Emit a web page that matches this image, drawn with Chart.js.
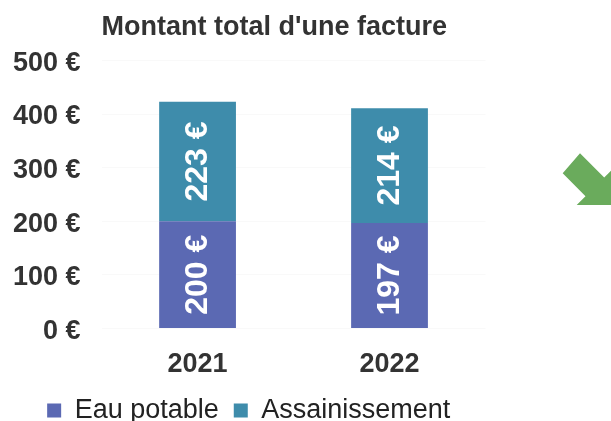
<!DOCTYPE html>
<html>
<head>
<meta charset="utf-8">
<script src="https://cdn.jsdelivr.net/npm/chart.js@4"></script>
<style>
    body { margin: 0; background: #fff; }
    #wrap { width: 611px; height: 421px; position: relative; }
</style>
</head>
<body>
<div id="wrap"><canvas id="factureChart"></canvas></div>
<script>
// données du graphique
const annees = ['2021', '2022'];
const eauPotable = [200, 197];
const assainissement = [223, 214];
const yTicks = [0, 100, 200, 300, 400, 500];

const police = "'Liberation Sans', Arial, sans-serif";

// étiquettes verticales dans les barres
const etiquettesPlugin = {
    id: 'etiquettes',
    afterDatasetsDraw(chart) {
        const ctx = chart.ctx;
        ctx.save();
        ctx.fillStyle = '#ffffff';
        ctx.font = 'bold 32px ' + police;
        ctx.textAlign = 'center';
        ctx.textBaseline = 'middle';
        chart.data.datasets.forEach((ds, i) => {
            chart.getDatasetMeta(i).data.forEach((bar, j) => {
                const cy = (bar.y + bar.base) / 2;
                ctx.save();
                ctx.translate(bar.x, cy);
                ctx.rotate(-Math.PI / 2);
                ctx.fillText(ds.data[j] + ' €', 0, 1);
                ctx.restore();
            });
        });
        ctx.restore();
    }
};

// flèche verte décorative (coupée au bord droit)
const flechePlugin = {
    id: 'fleche',
    afterDraw(chart) {
        const ctx = chart.ctx;
        const w = chart.width;
        const pts = [[-48.3, 173.3], [-31, 153.3], [-6.8, 177.5], [2.1, 168.7],
                     [2, 205], [-34.3, 205], [-25.5, 196.2]];
        ctx.save();
        ctx.fillStyle = '#6aab5c';
        ctx.beginPath();
        pts.forEach((p, k) => {
            if (k === 0) ctx.moveTo(w + p[0], p[1]);
            else ctx.lineTo(w + p[0], p[1]);
        });
        ctx.closePath();
        ctx.fill();
        ctx.restore();
    }
};

new Chart(document.getElementById('factureChart'), {
    type: 'bar',
    data: {
        labels: annees,
        datasets: [{
            label: 'Eau potable',
            data: eauPotable,
            backgroundColor: '#5b69b3',
            categoryPercentage: 1,
            barPercentage: 0.4
        }, {
            label: 'Assainissement',
            data: assainissement,
            backgroundColor: '#3e8cab',
            categoryPercentage: 1,
            barPercentage: 0.4
        }]
    },
    options: {
        responsive: true,
        maintainAspectRatio: false,
        animation: false,
        layout: {
            padding: { left: 12, right: 125.5, top: 0, bottom: -13 }
        },
        plugins: {
            title: {
                display: true,
                text: "Montant total d'une facture",
                align: 'start',
                fullSize: false,
                color: '#333333',
                font: { family: police, size: 27, weight: 'bold' },
                padding: { top: 11, bottom: 17 }
            },
            legend: {
                position: 'bottom',
                labels: {
                    color: '#222222',
                    font: { family: police, size: 27 },
                    boxWidth: 14,
                    boxHeight: 14,
                    padding: 15
                }
            },
            tooltip: { enabled: false }
        },
        scales: {
            x: {
                stacked: true,
                grid: { display: false, drawTicks: true, tickLength: 19 },
                border: { display: false },
                ticks: {
                    color: '#333333',
                    padding: 1,
                    font: { family: police, size: 27, weight: 'bold' }
                }
            },
            y: {
                stacked: true,
                min: yTicks[0],
                max: yTicks[yTicks.length - 1],
                afterBuildTicks(scale) {
                    scale.ticks = yTicks.map(v => ({ value: v }));
                },
                grid: {
                    color: 'rgba(0,0,0,0.025)',
                    drawTicks: true,
                    tickLength: 20,
                    tickColor: 'rgba(0,0,0,0)'
                },
                border: { display: false },
                ticks: {
                    color: '#333333',
                    padding: 1,
                    labelOffset: 3,
                    font: { family: police, size: 27, weight: 'bold' },
                    callback: v => v + ' €'
                }
            }
        }
    },
    plugins: [etiquettesPlugin, flechePlugin]
});
</script>
</body>
</html>
